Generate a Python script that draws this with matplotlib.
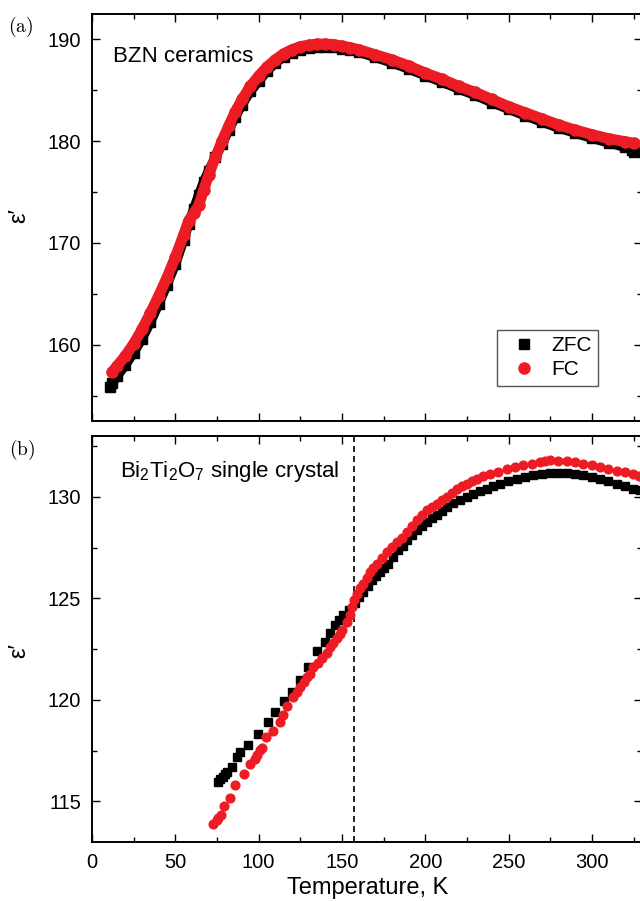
import matplotlib
matplotlib.use("Agg")
import matplotlib.pyplot as plt

plt.rcParams['font.family'] = ['Liberation Sans', 'DejaVu Sans']
plt.rcParams['mathtext.fontset'] = 'custom'
plt.rcParams['mathtext.rm'] = 'Liberation Sans'
plt.rcParams['mathtext.it'] = 'Liberation Sans:italic'

# ---------------- data: panel (a) BZN ceramics ----------------
zfc_T_a = [11, 12, 15, 20, 25, 30, 35, 40, 45, 50, 55, 58, 61, 64, 67, 70, 74, 78, 82, 86,
           90, 95, 100, 105, 110, 115, 120, 125, 130, 135, 140, 145, 150, 155, 160, 170,
           180, 190, 200, 210, 220, 230, 240, 250, 260, 270, 280, 290, 300, 310, 320, 324, 325]
zfc_e_a = [155.8, 156.2, 156.9, 158.0, 159.2, 160.6, 162.2, 164.0, 165.9, 167.9, 170.3, 171.9,
           173.3, 174.7, 176.0, 177.1, 178.4, 179.7, 181.1, 182.4, 183.6, 184.9, 185.9, 186.9,
           187.7, 188.3, 188.7, 189.0, 189.2, 189.3, 189.3, 189.25, 189.1, 188.95, 188.75,
           188.25, 187.7, 187.1, 186.45, 185.8, 185.15, 184.5, 183.8, 183.15, 182.5, 181.9,
           181.3, 180.8, 180.3, 179.85, 179.4, 179.1, 178.9]

fc_T_a = [12, 15, 20, 25, 30, 35, 40, 45, 50, 55, 58, 61, 64, 67, 70, 74, 78, 82, 86, 90, 95,
          100, 105, 110, 115, 120, 125, 130, 135, 140, 145, 150, 155, 160, 170, 180, 190, 200,
          210, 220, 230, 240, 250, 260, 270, 280, 290, 300, 310, 320, 325]
fc_e_a = [157.3, 157.9, 158.9, 160.1, 161.5, 163.1, 164.8, 166.6, 168.6, 170.8, 172.2, 172.9,
          173.7, 175.2, 176.7, 178.4, 180.0, 181.5, 182.9, 184.1, 185.4, 186.4, 187.3, 188.0,
          188.6, 189.0, 189.3, 189.45, 189.55, 189.55, 189.5, 189.35, 189.2, 189.0, 188.5,
          188.0, 187.4, 186.7, 186.1, 185.4, 184.8, 184.1, 183.4, 182.8, 182.2, 181.6, 181.1,
          180.65, 180.25, 179.95, 179.8]

# ---------------- data: panel (b) Bi2Ti2O7 single crystal ----------------
zfc_T_b = [75.8, 77.0, 78.4, 79.8, 80.8, 83.8, 86.8, 88.8, 93.8, 99.6, 105.6, 109.9, 115.0,
           119.9, 124.8, 129.8, 134.8, 139.8, 142.8, 145.8, 148.3, 150.8, 154.3, 157.8, 160.3,
           162.8, 165.3, 167.8, 170.3, 172.8, 175.3, 177.8, 180.8, 183.8, 186.3, 188.8, 191.8,
           194.8, 197.8, 200.8, 203.8, 206.8, 209.8, 212.8, 216.8, 220.8, 224.8, 228.8, 232.8,
           236.8, 240.8, 244.8, 249.8, 254.8, 259.8, 264.8, 269.8, 274.8, 279.8, 284.8, 289.8,
           294.8, 299.8, 304.8, 309.8, 314.8, 319.8, 324.8, 328.8]
zfc_e_b = [115.96, 116.1, 116.21, 116.37, 116.45, 116.7, 117.19, 117.42, 117.8, 118.32, 118.92,
           119.41, 119.94, 120.39, 121.0, 121.63, 122.42, 122.86, 123.3, 123.68, 123.95, 124.17,
           124.45, 124.75, 125.05, 125.32, 125.6, 125.9, 126.1, 126.3, 126.5, 126.71, 127.05,
           127.37, 127.6, 127.86, 128.1, 128.36, 128.55, 128.77, 128.95, 129.1, 129.3, 129.51,
           129.68, 129.84, 130.0, 130.16, 130.3, 130.41, 130.55, 130.66, 130.78, 130.9, 131.0,
           131.07, 131.13, 131.18, 131.2, 131.2, 131.15, 131.07, 131.0, 130.9, 130.78, 130.66,
           130.55, 130.41, 130.33]

fc_T_b = [72.8, 74.8, 75.8, 77.2, 79.2, 82.6, 85.8, 91.0, 94.8, 97.5, 99.2, 100.8, 101.8, 104.6,
          108.6, 112.6, 114.8, 117.0, 120.8, 122.8, 124.8, 127.0, 128.8, 130.8, 132.8, 135.8,
          138.0, 140.8, 142.8, 144.8, 146.8, 148.8, 150.0, 152.8, 154.5, 155.8, 157.3, 158.8,
          160.8, 162.8, 164.8, 166.8, 168.8, 170.8, 173.8, 176.8, 179.8, 182.8, 185.8, 188.8,
          191.8, 194.8, 197.8, 200.8, 203.8, 206.8, 209.8, 212.8, 215.8, 218.8, 221.8, 224.8,
          227.8, 230.8, 234.8, 238.8, 243.8, 248.8, 253.8, 258.8, 263.8, 268.8, 271.8, 274.8,
          279.8, 284.8, 289.8, 294.8, 299.8, 304.8, 309.8, 314.8, 319.8, 324.8, 328.0]
fc_e_b = [113.91, 114.07, 114.2, 114.32, 114.76, 115.18, 115.82, 116.35, 116.82, 117.1, 117.3,
          117.52, 117.65, 118.16, 118.46, 118.93, 119.25, 119.7, 120.15, 120.4, 120.64, 120.9,
          121.13, 121.3, 121.63, 121.8, 122.05, 122.3, 122.6, 122.8, 123.05, 123.26, 123.45,
          123.84, 124.2, 124.58, 124.9, 125.23, 125.5, 125.73, 126.0, 126.3, 126.5, 126.71,
          127.0, 127.28, 127.55, 127.78, 128.0, 128.27, 128.55, 128.85, 129.1, 129.34, 129.5,
          129.67, 129.85, 130.0, 130.2, 130.41, 130.55, 130.66, 130.78, 130.9, 131.02, 131.15,
          131.25, 131.35, 131.45, 131.56, 131.62, 131.72, 131.76, 131.81, 131.78, 131.77,
          131.72, 131.64, 131.55, 131.45, 131.38, 131.28, 131.22, 131.15, 131.05]

T_marker = 157  # dashed vertical line

xticks = [0, 50, 100, 150, 200, 250, 300]
yticks_a = [160, 170, 180, 190]
yticks_b = [115, 120, 125, 130]

RED = '#ED1C24'
W, H = 640, 901

fig = plt.figure(figsize=(6.4, 9.01), dpi=100)
ax1 = fig.add_axes([92 / W, 1 - 421 / H, 550 / W, 407 / H])
ax2 = fig.add_axes([92 / W, 1 - 842 / H, 550 / W, 406 / H])

for ax in (ax1, ax2):
    ax.set_xlim(0, 330)
    ax.set_xticks(xticks)
    ax.set_xticks(range(25, 330, 50), minor=True)
    ax.tick_params(which='both', direction='in', top=True, right=True, width=1.0,
                   labelsize=14.5, pad=8)
    ax.tick_params(which='major', length=6)
    ax.tick_params(which='minor', length=3.6)
    for s in ax.spines.values():
        s.set_linewidth(1.4)

# panel (a)
ax1.set_ylim(152.5, 192.5)
ax1.set_yticks(yticks_a)
ax1.set_yticks([155, 165, 175, 185], minor=True)
ax1.tick_params(labelbottom=False)
ax1.plot(zfc_T_a, zfc_e_a, color='black', lw=7.0, solid_capstyle='butt', zorder=2)
ax1.plot(zfc_T_a, zfc_e_a, ls='none', marker='s', ms=7.2, color='black', label='ZFC', zorder=2)
ax1.plot(fc_T_a, fc_e_a, color=RED, lw=7.8, solid_capstyle='round', zorder=3)
ax1.plot(fc_T_a, fc_e_a, ls='none', marker='o', ms=8, color=RED, label='FC', zorder=3)
leg = ax1.legend(loc='upper left', bbox_to_anchor=(0.736, 0.2236), borderaxespad=0,
                 fontsize=15, numpoints=1, fancybox=False, framealpha=1,
                 handlelength=2.0, handletextpad=0.3, borderpad=0.3, labelspacing=0.25)
leg.get_frame().set_edgecolor('#555555')
leg.get_frame().set_linewidth(1.0)

# panel (b)
ax2.set_ylim(113, 133)
ax2.set_yticks(yticks_b)
ax2.set_yticks([117.5, 122.5, 127.5, 132.5], minor=True)
ax2.plot(zfc_T_b, zfc_e_b, ls='none', marker='s', ms=5.6, color='black', zorder=2)
ax2.plot(fc_T_b, fc_e_b, ls='none', marker='o', ms=6.3, color=RED, zorder=3)
ax2.axvline(T_marker, color='black', lw=1.2, dashes=(3.6, 2.4), zorder=1)

# texts
fig.text(112.7 / W, 1 - 62.3 / H, 'BZN ceramics', fontsize=16, va='baseline', ha='left')
fig.text(120 / W, 1 - 477.3 / H, r'Bi$_2$Ti$_2$O$_7$ single crystal', fontsize=16,
         va='baseline', ha='left')
fig.text(21 / W, 1 - 27 / H, r'$\mathrm{(a)}$', fontsize=14, ha='center', va='center',
         math_fontfamily='cm')
fig.text(22 / W, 1 - 450 / H, r'$\mathrm{(b)}$', fontsize=14, ha='center', va='center',
         math_fontfamily='cm')
fig.text(19 / W, 1 - 216 / H, 'ε′', rotation=90, fontsize=17, ha='center', va='center')
fig.text(19 / W, 1 - 651 / H, 'ε′', rotation=90, fontsize=17, ha='center', va='center')
fig.text(368 / W, 1 - 894 / H, 'Temperature, K', fontsize=17, ha='center', va='baseline')

fig.savefig('out.png', dpi=100)
